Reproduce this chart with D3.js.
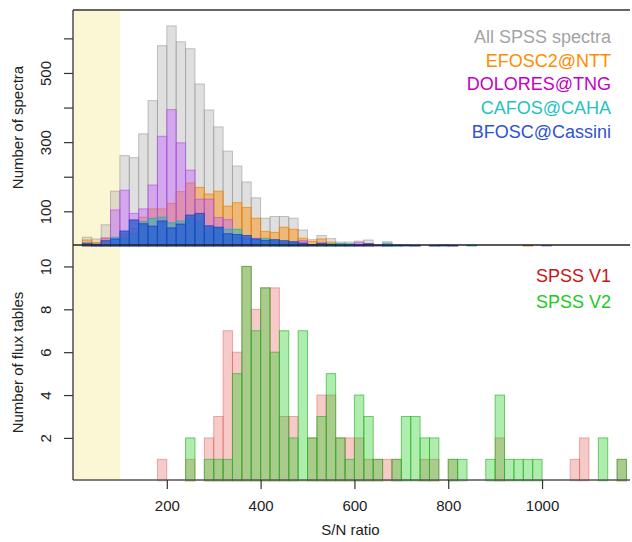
<!DOCTYPE html>
<html><head><meta charset="utf-8">
<script src="https://cdn.jsdelivr.net/npm/d3@7"></script>
<style>
html,body{margin:0;padding:0;background:#fff;}
svg{display:block;font-family:"Liberation Sans",Arial,Helvetica,sans-serif;}
</style></head>
<body>
<script>
// ---------- data ----------
const binWidth = 20;
const topBins = [20,40,60,80,100,120,140,160,180,200,220,240,260,280,300,320,340,360,380,400,
  420,440,460,480,500,520,540,560,580,600,620,640,660,680,700,720,740,760,780,800,
  820,840,860,880,900,920,940,960,980,1000];
const allSpectra = [25,20,61,158,261,255,324,420,579,636,590,570,468,393,344,274,231,185,139,80,
  85,85,80,46,18,30,21,11,11,14,17,2,12,3,2,2,0,2,2,2,
  0,2,0,0,0,0,0,2,0,1];
const efosc = [17,10,22,9,35,50,83,107,107,123,157,182,169,150,158,115,125,111,80,42,
  39,54,48,22,13,20,11,2,0,1,6,0,0,0,0,0,0,0,0,0,
  0,0,0,0,0,0,0,2,0,0];
const dolores = [0,3,23,104,161,94,107,176,317,394,298,219,135,135,82,76,25,20,22,0,
  13,6,10,15,0,0,0,0,3,10,5,0,2,0,0,1,0,1,0,1,
  0,0,0,0,0,0,0,0,0,1];
const cafos = [0,2,1,25,22,36,70,80,83,67,72,80,70,50,50,48,48,24,17,22,
  15,10,10,1,1,2,6,7,6,0,0,0,8,2,0,0,0,0,0,0,
  0,2,0,0,0,0,0,0,0,0];
const bfosc = [8,5,15,20,43,75,64,57,72,52,63,89,94,58,54,35,33,30,20,16,
  18,15,12,8,4,8,4,2,2,3,6,2,2,1,2,1,0,1,2,1,
  0,0,0,0,0,0,0,0,0,0];
const topSeriesNames = ["All SPSS spectra","EFOSC2@NTT","DOLORES@TNG","CAFOS@CAHA","BFOSC@Cassini"];

const bottomBins = [180,200,220,240,260,280,300,320,340,360,380,400,420,440,460,480,500,520,540,560,
  580,600,620,640,660,680,700,720,740,760,780,800,820,840,860,880,900,920,940,960,
  980,1000,1020,1040,1060,1080,1100,1120,1140,1160];
const spssV1 = [1,0,0,1,0,2,3,7,6,10,8,9,9,3,3,0,2,4,4,2,
  2,2,1,1,1,1,0,0,1,1,0,1,0,0,0,0,2,0,0,0,
  0,0,0,0,1,2,0,0,0,1];
const spssV2 = [0,0,0,2,0,1,1,1,5,10,7,9,6,7,2,7,2,3,5,2,
  1,4,3,1,0,1,3,3,2,2,0,1,1,0,0,1,4,1,1,1,
  1,0,0,0,0,0,0,2,0,1];
const bottomSeriesNames = ["SPSS V1","SPSS V2"];

const xTicks = [200,400,600,800,1000];
const topYTicks = [100,200,300,400,500,600];
const topYLabels = [100,300,500];
const bottomYTicks = [2,4,6,8,10];
const lowSNLimit = [0,100];

// ---------- layout ----------
const W = 632, H = 542;
const left = 73, right = 630;
const topT = 10, topB = 245.9, botT = 245, botB = 480.8;

const svg = d3.select("body").append("svg").attr("width", W).attr("height", H);

const x = d3.scaleLinear().domain([0, 1187.5]).range([left, right]);
const yTop = d3.scaleLinear().domain([0, 682]).range([topB, topT]);
const yBot = d3.scaleLinear().domain([0, 11]).range([botB, botT]);

// yellow low S/N band
svg.append("rect")
  .attr("x", x(lowSNLimit[0])).attr("width", x(lowSNLimit[1]) - x(lowSNLimit[0]))
  .attr("y", topT).attr("height", 480 - topT)
  .attr("fill", "#fbf6d3");

// ---------- top histograms ----------
const topSeries = [
  {vals: allSpectra, fill: "rgba(185,185,185,0.45)", stroke: "rgba(150,150,150,0.55)"},
  {vals: efosc, fill: "rgba(255,140,0,0.45)", stroke: "rgba(240,130,0,0.7)"},
  {vals: dolores, fill: "rgba(195,90,255,0.42)", stroke: "rgba(180,70,230,0.6)"},
  {vals: cafos, fill: "rgba(30,180,190,0.5)", stroke: "rgba(30,170,180,0.7)"},
  {vals: bfosc, fill: "rgba(40,95,210,0.78)", stroke: "rgba(25,65,195,0.8)"}
];
topSeries.forEach(s => {
  const d = topBins.map((b, i) => ({b, v: s.vals[i]})).filter(e => e.v > 0);
  svg.append("g").selectAll("rect").data(d).join("rect")
    .attr("x", e => x(e.b)).attr("width", e => x(e.b + binWidth) - x(e.b))
    .attr("y", e => yTop(e.v)).attr("height", e => yTop(0) - yTop(e.v))
    .attr("fill", s.fill).attr("stroke", s.stroke).attr("stroke-width", 1);
});

// ---------- bottom histograms ----------
const botSeries = [
  {vals: spssV1, fill: "rgba(225,60,60,0.27)", stroke: "rgba(220,80,80,0.45)"},
  {vals: spssV2, fill: "rgba(30,205,30,0.36)", stroke: "rgba(40,180,40,0.65)"}
];
botSeries.forEach(s => {
  const d = bottomBins.map((b, i) => ({b, v: s.vals[i]})).filter(e => e.v > 0);
  svg.append("g").selectAll("rect").data(d).join("rect")
    .attr("x", e => x(e.b)).attr("width", e => x(e.b + binWidth) - x(e.b))
    .attr("y", e => yBot(e.v)).attr("height", e => yBot(0) - yBot(e.v))
    .attr("fill", s.fill).attr("stroke", s.stroke).attr("stroke-width", 1);
});

// ---------- frame lines ----------
const axisCol = "#333";
svg.append("line").attr("x1", left).attr("x2", right).attr("y1", topT).attr("y2", topT)
  .attr("stroke", axisCol).attr("stroke-width", 1.3);
svg.append("line").attr("x1", left).attr("x2", right).attr("y1", 245).attr("y2", 245)
  .attr("stroke", "#222").attr("stroke-width", 1.3);
svg.append("line").attr("x1", left).attr("x2", right).attr("y1", 480).attr("y2", 480)
  .attr("stroke", "#555").attr("stroke-width", 1.3);
svg.append("line").attr("x1", left).attr("x2", left).attr("y1", topT).attr("y2", 480)
  .attr("stroke", axisCol).attr("stroke-width", 1.3);

// ---------- axes ----------
const fs = 15;
const fam = "Liberation Sans, Arial, sans-serif";
// top y axis
const gTopY = svg.append("g").attr("transform", `translate(${left},0)`)
  .call(d3.axisLeft(yTop).tickValues(topYTicks).tickSize(9).tickPadding(0)
    .tickFormat(d => topYLabels.includes(d) ? String(d) : ""));
// bottom y axis
const gBotY = svg.append("g").attr("transform", `translate(${left},0)`)
  .call(d3.axisLeft(yBot).tickValues(bottomYTicks).tickSize(9).tickPadding(0)
    .tickFormat(d => String(d)));
[gTopY, gBotY].forEach(g => {
  g.select(".domain").remove();
  g.selectAll(".tick line").attr("stroke", axisCol).attr("stroke-width", 1.2);
  g.selectAll(".tick text")
    .attr("x", 0).attr("dy", null)
    .attr("transform", "translate(-27.5,0) rotate(-90)")
    .attr("text-anchor", "middle").attr("dominant-baseline", "central")
    .attr("font-size", fs).attr("font-family", fam).attr("fill", "#222");
});
// x axis
const gX = svg.append("g").attr("transform", `translate(0,480)`)
  .call(d3.axisBottom(x).tickValues(xTicks).tickSize(9).tickPadding(11)
    .tickFormat(d => String(d)));
gX.select(".domain").remove();
gX.selectAll(".tick line").attr("stroke", axisCol).attr("stroke-width", 1.2);
gX.selectAll(".tick text").attr("font-size", fs)
  .attr("font-family", fam).attr("fill", "#222");

// axis titles
svg.append("text").attr("x", (left + right) / 2 - 1).attr("y", 535).attr("text-anchor", "middle")
  .attr("font-size", fs).attr("fill", "#222").text("S/N ratio");
svg.append("text").attr("transform", `translate(17,${(topT + 245) / 2}) rotate(-90)`)
  .attr("text-anchor", "middle").attr("dominant-baseline", "central")
  .attr("font-size", fs).attr("fill", "#222").text("Number of spectra");
svg.append("text").attr("transform", `translate(17,${(245 + 480) / 2}) rotate(-90)`)
  .attr("text-anchor", "middle").attr("dominant-baseline", "central")
  .attr("font-size", fs).attr("fill", "#222").text("Number of flux tables");

// ---------- legends ----------
const topLegCols = ["#a3a3a3", "#ff8c00", "#c400c4", "#25c2c2", "#2e52d2"];
const topLegY = [36.7, 60.5, 84, 107.8, 131.5];
svg.append("g").selectAll("text").data(topSeriesNames).join("text")
  .attr("x", 611).attr("y", (d, i) => topLegY[i]).attr("text-anchor", "end")
  .attr("dominant-baseline", "central").attr("font-size", 18)
  .attr("fill", (d, i) => topLegCols[i]).text(d => d);

const botLegCols = ["#cc1414", "#22c922"];
const botLegY = [276, 301.5];
svg.append("g").selectAll("text").data(bottomSeriesNames).join("text")
  .attr("x", 611).attr("y", (d, i) => botLegY[i]).attr("text-anchor", "end")
  .attr("dominant-baseline", "central").attr("font-size", 18)
  .attr("fill", (d, i) => botLegCols[i]).text(d => d);
</script>
</body></html>
